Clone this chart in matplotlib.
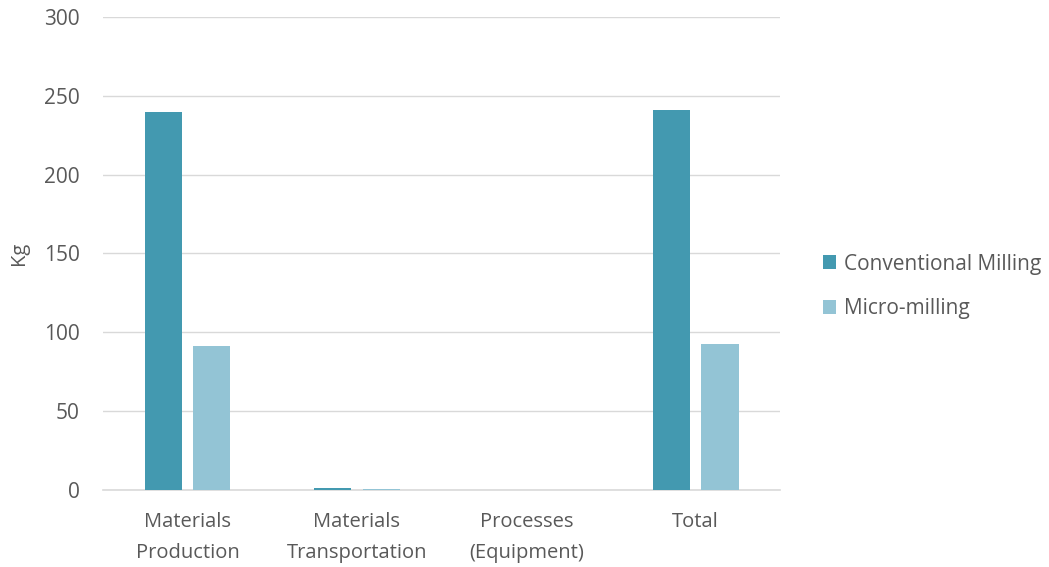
import matplotlib
matplotlib.use("Agg")
import matplotlib.pyplot as plt
import numpy as np

categories = ["Materials\nProduction", "Materials\nTransportation", "Processes\n(Equipment)", "Total"]
conventional = [239.5, 1.3, 0.05, 241.0]
micro = [91.0, 0.3, 0.02, 92.3]
series_names = ["Conventional Milling", "Micro-milling"]
colors = ["#4399B0", "#93C4D5"]
yticks = [0, 50, 100, 150, 200, 250, 300]

plt.rcParams['font.family'] = ['Open Sans', 'DejaVu Sans']
txt = "#595959"

fig = plt.figure(figsize=(10.49, 5.67), dpi=100)
ax = fig.add_axes([0.098, 0.136, 0.646, 0.834])

x = np.arange(len(categories))
w = 0.22
off = 0.143
ax.bar(x - off, conventional, w, color=colors[0], label=series_names[0], zorder=3)
ax.bar(x + off, micro, w, color=colors[1], label=series_names[1], zorder=3)

ax.set_xlim(-0.5, len(categories) - 0.5)
ax.set_ylim(0, 300)
ax.set_yticks(yticks)
ax.yaxis.grid(True, color="#D9D9D9", linewidth=1, zorder=0)
ax.set_axisbelow(True)
for s in ["top", "right", "left"]:
    ax.spines[s].set_visible(False)
ax.spines["bottom"].set_color("#D9D9D9")
ax.spines["bottom"].set_linewidth(1.2)
ax.set_xticks(x)
ax.set_xticklabels(categories, fontsize=14.5, color=txt, linespacing=1.72)
ax.tick_params(axis="x", length=0, labelsize=14.5, labelcolor=txt, pad=16)
ax.tick_params(axis="y", length=0, labelsize=15, labelcolor=txt, pad=16.5)
ax.set_ylabel("Kg", fontsize=14.5, color=txt)
ax.yaxis.set_label_coords(-0.109, 0.5)

leg = fig.legend(loc="center left", bbox_to_anchor=(0.7665, 0.495), frameon=False,
                 fontsize=15, labelcolor=txt, handlelength=0.65, handleheight=0.65,
                 handletextpad=0.35, labelspacing=1.12)

fig.savefig("out.png", dpi=100)
